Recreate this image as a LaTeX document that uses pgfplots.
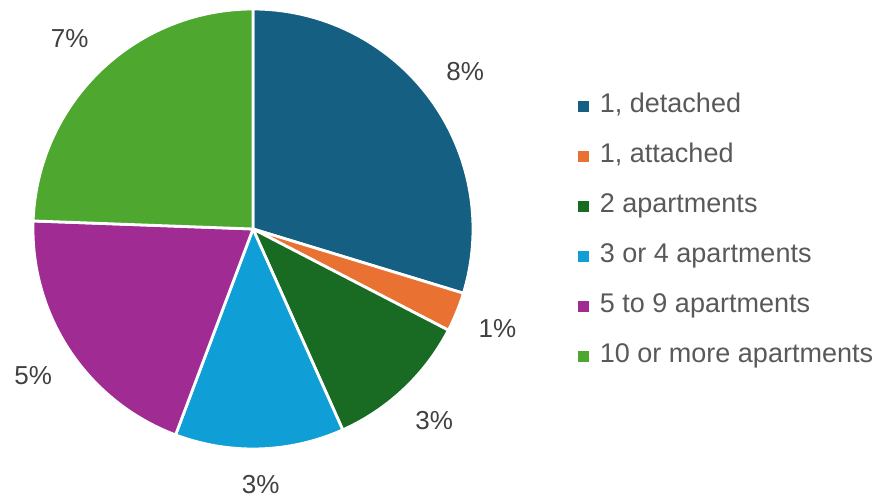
\documentclass[border=0pt]{standalone}
\usepackage{fontspec}
\setmainfont{Liberation Sans}
\usepackage{pgfplots}
\pgfplotsset{compat=1.18}
\definecolor{cA}{HTML}{156082}
\definecolor{cB}{HTML}{E97132}
\definecolor{cC}{HTML}{196B24}
\definecolor{cD}{HTML}{0F9ED5}
\definecolor{cE}{HTML}{A02B93}
\definecolor{cF}{HTML}{4EA72E}
\definecolor{labc}{HTML}{404040}
\definecolor{legc}{HTML}{595959}
\begin{document}
\begin{tikzpicture}
% values (share of units)
\def\vA{8.02}\def\vB{0.78}\def\vC{2.89}\def\vD{3.35}\def\vE{5.36}\def\vF{6.59}
\pgfmathsetmacro\T{\vA+\vB+\vC+\vD+\vE+\vF}
\pgfmathsetmacro\aA{90}
\pgfmathsetmacro\aB{\aA-360*\vA/\T}
\pgfmathsetmacro\aC{\aB-360*\vB/\T}
\pgfmathsetmacro\aD{\aC-360*\vC/\T}
\pgfmathsetmacro\aE{\aD-360*\vD/\T}
\pgfmathsetmacro\aF{\aE-360*\vE/\T}
\pgfmathsetmacro\aG{\aF-360*\vF/\T}
\pgfmathsetmacro\xA{1.2*cos((\aA+\aB)/2)}\pgfmathsetmacro\yA{1.2*sin((\aA+\aB)/2)}
\pgfmathsetmacro\xB{1.2*cos((\aB+\aC)/2)}\pgfmathsetmacro\yB{1.2*sin((\aB+\aC)/2)}
\pgfmathsetmacro\xC{1.2*cos((\aC+\aD)/2)}\pgfmathsetmacro\yC{1.2*sin((\aC+\aD)/2)}
\pgfmathsetmacro\xD{1.16*cos((\aD+\aE)/2)}\pgfmathsetmacro\yD{1.16*sin((\aD+\aE)/2)}
\pgfmathsetmacro\xE{1.2*cos((\aE+\aF)/2)}\pgfmathsetmacro\yE{1.2*sin((\aE+\aF)/2)}
\pgfmathsetmacro\xF{1.2*cos((\aF+\aG)/2)}\pgfmathsetmacro\yF{1.2*sin((\aF+\aG)/2)}
\begin{axis}[
  x=220bp, y=220bp,
  xmin=-1.15, xmax=2.8545, ymin=-1.2318, ymax=1.0409,
  hide axis, clip=false,
  legend cell align=left,
  legend image code/.code={\path[#1,draw=none] (0bp,-5.5bp) rectangle (11bp,5.5bp);},
  legend style={at={(axis cs:1.477,0.615)}, anchor=north west, draw=none, fill=none,
    inner sep=0pt, outer sep=0pt, text=legc,
    font=\fontsize{27bp}{31bp}\selectfont,
    row sep=25bp,
    nodes={inner sep=0pt, text depth=6bp, text height=19bp},
    /tikz/every odd column/.append style={column sep=11bp}},
  every axis plot/.append style={draw=white, line width=2.8bp, samples=90, variable=\t},
]
\path (rel axis cs:0,0) rectangle (rel axis cs:1,1);
\addplot[fill=cA, domain=\aB:\aA] ({cos(\t)},{sin(\t)}) -- (axis cs:0,0) -- cycle;
\addlegendentry{1, detached}
\addplot[fill=cB, domain=\aC:\aB] ({cos(\t)},{sin(\t)}) -- (axis cs:0,0) -- cycle;
\addlegendentry{1, attached}
\addplot[fill=cC, domain=\aD:\aC] ({cos(\t)},{sin(\t)}) -- (axis cs:0,0) -- cycle;
\addlegendentry{2 apartments}
\addplot[fill=cD, domain=\aE:\aD] ({cos(\t)},{sin(\t)}) -- (axis cs:0,0) -- cycle;
\addlegendentry{3 or 4 apartments}
\addplot[fill=cE, domain=\aF:\aE] ({cos(\t)},{sin(\t)}) -- (axis cs:0,0) -- cycle;
\addlegendentry{5 to 9 apartments}
\addplot[fill=cF, domain=\aG:\aF] ({cos(\t)},{sin(\t)}) -- (axis cs:0,0) -- cycle;
\addlegendentry{10 or more apartments}
\pgfkeys{/pgf/number format/.cd, fixed, precision=0, assume math mode=true}
\begin{scope}[every node/.style={text=labc, font=\fontsize{26bp}{30bp}\selectfont}]
\node at (axis cs:\xA,\yA) {\pgfmathprintnumber{\vA}\%};
\node at (axis cs:\xB,\yB) {\pgfmathprintnumber{\vB}\%};
\node at (axis cs:\xC,\yC) {\pgfmathprintnumber{\vC}\%};
\node at (axis cs:\xD,\yD) {\pgfmathprintnumber{\vD}\%};
\node at (axis cs:\xE,\yE) {\pgfmathprintnumber{\vE}\%};
\node at (axis cs:\xF,\yF) {\pgfmathprintnumber{\vF}\%};
\end{scope}
\end{axis}
\end{tikzpicture}
\end{document}
